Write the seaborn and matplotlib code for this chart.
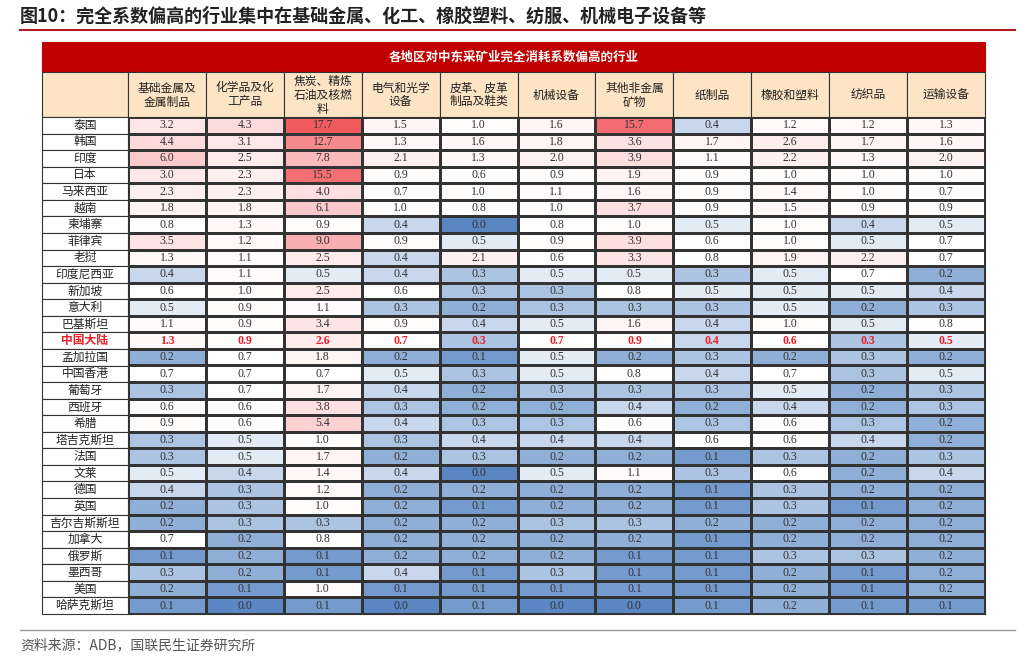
import numpy as np
import pandas as pd
import matplotlib
matplotlib.use("Agg")
import matplotlib.pyplot as plt
import seaborn as sns
from matplotlib.colors import LinearSegmentedColormap, TwoSlopeNorm
from matplotlib.patches import Rectangle

regions = ["泰国", "韩国", "印度", "日本", "马来西亚", "越南", "柬埔寨", "菲律宾", "老挝", "印度尼西亚",
           "新加坡", "意大利", "巴基斯坦", "中国大陆", "孟加拉国", "中国香港", "葡萄牙", "西班牙", "希腊",
           "塔吉克斯坦", "法国", "文莱", "德国", "英国", "吉尔吉斯斯坦", "加拿大", "俄罗斯", "墨西哥", "美国", "哈萨克斯坦"]
industries = ["基础金属及\n金属制品", "化学品及化\n工产品", "焦炭、精炼\n石油及核燃\n料", "电气和光学\n设备",
              "皮革、皮革\n制品及鞋类", "机械设备", "其他非金属\n矿物", "纸制品", "橡胶和塑料", "纺织品", "运输设备"]

basic_metal = [3.2, 4.4, 6.0, 3.0, 2.3, 1.8, 0.8, 3.5, 1.3, 0.4, 0.6, 0.5, 1.1, 1.3, 0.2, 0.7, 0.3, 0.6, 0.9, 0.3, 0.3, 0.5, 0.4, 0.2, 0.2, 0.7, 0.1, 0.3, 0.2, 0.1]
chemical = [4.3, 3.1, 2.5, 2.3, 2.3, 1.8, 1.3, 1.2, 1.1, 1.1, 1.0, 0.9, 0.9, 0.9, 0.7, 0.7, 0.7, 0.6, 0.6, 0.5, 0.5, 0.4, 0.3, 0.3, 0.3, 0.2, 0.2, 0.2, 0.1, 0.0]
coke_oil = [17.7, 12.7, 7.8, 15.5, 4.0, 6.1, 0.9, 9.0, 2.5, 0.5, 2.5, 1.1, 3.4, 2.6, 1.8, 0.7, 1.7, 3.8, 5.4, 1.0, 1.7, 1.4, 1.2, 1.0, 0.3, 0.8, 0.1, 0.1, 1.0, 0.1]
electrical = [1.5, 1.3, 2.1, 0.9, 0.7, 1.0, 0.4, 0.9, 0.4, 0.4, 0.6, 0.3, 0.9, 0.7, 0.2, 0.5, 0.4, 0.3, 0.4, 0.3, 0.2, 0.4, 0.2, 0.2, 0.2, 0.2, 0.2, 0.4, 0.1, 0.0]
leather = [1.0, 1.6, 1.3, 0.6, 1.0, 0.8, 0.0, 0.5, 2.1, 0.3, 0.3, 0.2, 0.4, 0.3, 0.1, 0.3, 0.2, 0.2, 0.3, 0.4, 0.3, 0.0, 0.2, 0.1, 0.2, 0.2, 0.2, 0.1, 0.1, 0.1]
machinery = [1.6, 1.8, 2.0, 0.9, 1.1, 1.0, 0.8, 0.9, 0.6, 0.5, 0.3, 0.3, 0.5, 0.7, 0.5, 0.5, 0.3, 0.2, 0.3, 0.4, 0.2, 0.5, 0.2, 0.2, 0.3, 0.2, 0.2, 0.3, 0.1, 0.0]
nonmetal = [15.7, 3.6, 3.9, 1.9, 1.6, 3.7, 1.0, 3.9, 3.3, 0.5, 0.8, 0.3, 1.6, 0.9, 0.2, 0.8, 0.3, 0.4, 0.6, 0.4, 0.2, 1.1, 0.2, 0.2, 0.3, 0.2, 0.1, 0.1, 0.1, 0.0]
paper = [0.4, 1.7, 1.1, 0.9, 0.9, 0.9, 0.5, 0.6, 0.8, 0.3, 0.5, 0.3, 0.4, 0.4, 0.3, 0.4, 0.3, 0.2, 0.3, 0.6, 0.1, 0.3, 0.1, 0.1, 0.2, 0.1, 0.1, 0.1, 0.1, 0.1]
rubber = [1.2, 2.6, 2.2, 1.0, 1.4, 1.5, 1.0, 1.0, 1.9, 0.5, 0.5, 0.5, 1.0, 0.6, 0.2, 0.7, 0.5, 0.4, 0.6, 0.6, 0.3, 0.6, 0.3, 0.3, 0.2, 0.2, 0.3, 0.2, 0.2, 0.2]
textile = [1.2, 1.7, 1.3, 1.0, 1.0, 0.9, 0.4, 0.5, 2.2, 0.7, 0.5, 0.2, 0.5, 0.3, 0.3, 0.3, 0.2, 0.2, 0.3, 0.4, 0.2, 0.2, 0.2, 0.1, 0.2, 0.2, 0.3, 0.1, 0.1, 0.1]
transport = [1.3, 1.6, 2.0, 1.0, 0.7, 0.9, 0.5, 0.7, 0.7, 0.2, 0.4, 0.3, 0.8, 0.5, 0.2, 0.5, 0.3, 0.3, 0.2, 0.2, 0.3, 0.4, 0.2, 0.2, 0.2, 0.2, 0.2, 0.2, 0.2, 0.1]

df = pd.DataFrame(np.array([basic_metal, chemical, coke_oil, electrical, leather, machinery, nonmetal,
                            paper, rubber, textile, transport]).T, index=regions, columns=industries)

# one 3-colour scale for the whole table (min blue, ~median white, max red)
vals = df.values
norm = TwoSlopeNorm(vmin=vals.min(), vcenter=0.6, vmax=vals.max())

plt.rcParams['font.family'] = ['Noto Sans CJK SC', 'DejaVu Sans']
W, H = 1024, 657
fig = plt.figure(figsize=(W / 100, H / 100), dpi=100)

def box(x, y, w, h, fc, ec="#333333", lw=0.8):
    fig.add_artist(Rectangle((x / W, 1 - (y + h) / H), w / W, h / H, transform=fig.transFigure,
                             facecolor=fc, edgecolor=ec, linewidth=lw))

def ftext(x, y, s, **kw):
    fig.text(x / W, 1 - y / H, s, **kw)

# title
ftext(20, 16, "图10：完全系数偏高的行业集中在基础金属、化工、橡胶塑料、纺服、机械电子设备等",
      fontsize=13, fontweight="bold", va="center", color="#222222")
fig.add_artist(plt.Line2D([20 / W, 1015 / W], [1 - 30 / H, 1 - 30 / H], color="#b01c24", lw=1.5))

x0, x1, lab_x = 128, 985, 42
top_h, top_y = 117, 614
nrow = len(regions)
rh = (top_y - top_h) / nrow
cw = (x1 - x0) / len(industries)

# banner
box(lab_x, 42, x1 - lab_x, 30, "#c00000", ec="#c00000")
ftext((lab_x + x1) / 2, 57, "各地区对中东采矿业完全消耗系数偏高的行业", color="white",
      fontsize=9, fontweight="bold", ha="center", va="center")
# header
box(lab_x, 72, x0 - lab_x, 45, "#fce4c4")
for i, name in enumerate(industries):
    box(x0 + i * cw, 72, cw, 45, "#fce4c4")
    ftext(x0 + (i + 0.5) * cw, 95, name, fontsize=8.5, ha="center", va="center",
          linespacing=1.1, color="#222222")

# region labels
for j, r in enumerate(regions):
    box(lab_x, top_h + j * rh, x0 - lab_x, rh, "white")
    china = r == "中国大陆"
    ftext((lab_x + x0) / 2, top_h + (j + 0.5) * rh, r, fontsize=8.5, ha="center", va="center",
          color="#e8202a" if china else "#222222", fontweight="bold" if china else "normal")

cmap = LinearSegmentedColormap.from_list("bwr_xl", ["#5a87c4", "#ffffff", "#f25a5f"])
ax = fig.add_axes([x0 / W, 1 - top_y / H, (x1 - x0) / W, (top_y - top_h) / H])
sns.heatmap(df, ax=ax, cmap=cmap, norm=norm, cbar=False, annot=True, fmt=".1f",
            linewidths=0.8, linecolor="#333333",
            annot_kws={"fontsize": 8.5, "color": "#333333", "family": ["Liberation Serif", "DejaVu Sans"]})
ax.set_xticks([])
ax.set_yticks([])
ax.set_xlabel("")
ax.set_ylabel("")
ci = regions.index("中国大陆")
for t in ax.texts:
    t.set_color("#333333")
    x, y = t.get_position()
    if int(y) == ci:
        t.set_color("#e8202a")
        t.set_fontweight("bold")
for s in ax.spines.values():
    s.set_visible(True)
    s.set_color("#333333")

fig.add_artist(plt.Line2D([20 / W, 1015 / W], [1 - 630 / H, 1 - 630 / H], color="#999999", lw=1))
ftext(20, 645, "资料来源：ADB，国联民生证券研究所", fontsize=10, va="center", color="#555555")

fig.savefig("out.png", dpi=100)
